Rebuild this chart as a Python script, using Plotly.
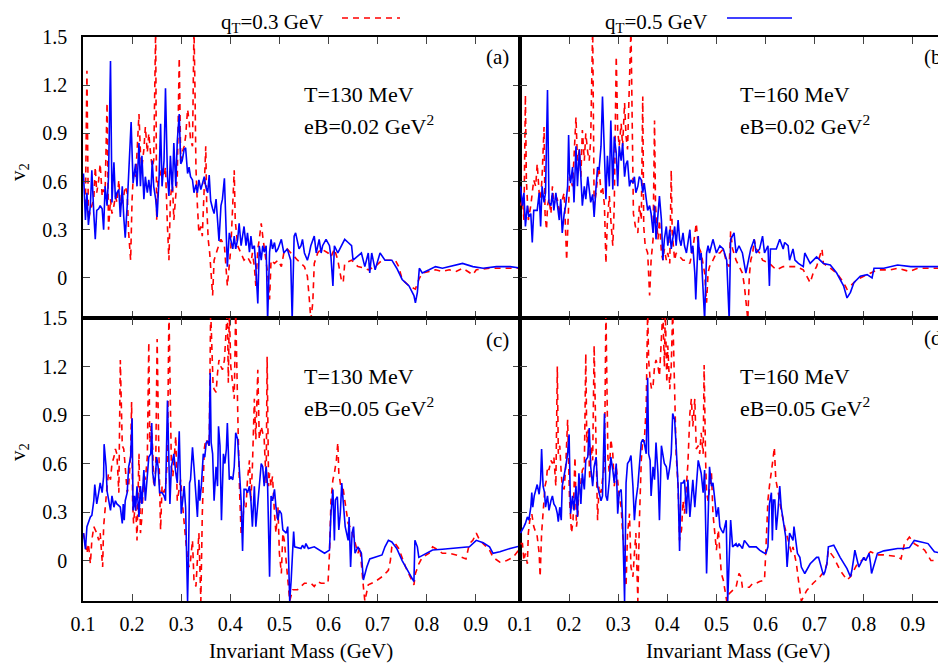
import plotly.graph_objects as go

# ---------------- data ----------------
# panel (a): T=130 MeV, eB=0.02 GeV^2
a_blue_x = [0.101,0.105,0.108,0.111,0.115,0.118,0.122,0.125,0.128,0.132,0.135,0.139,0.142,0.145,0.149,0.152,0.156,0.159,0.163,0.166,0.169,0.173,0.176,0.180,0.183,0.186,0.190,0.193,0.198,0.202,0.207,0.210,0.214,0.217,0.220,0.224,0.227,0.231,0.234,0.238,0.241,0.244,0.248,0.251,0.255,0.258,0.261,0.265,0.268,0.272,0.275,0.278,0.282,0.285,0.289,0.292,0.296,0.299,0.302,0.306,0.309,0.313,0.316,0.319,0.323,0.326,0.330,0.333,0.336,0.340,0.343,0.347,0.350,0.354,0.357,0.360,0.364,0.367,0.371,0.374,0.377,0.381,0.384,0.388,0.391,0.394,0.398,0.401,0.405,0.408,0.411,0.415,0.418,0.422,0.425,0.428,0.432,0.435,0.439,0.442,0.445,0.449,0.452,0.456,0.459,0.463,0.466,0.469,0.473,0.476,0.480,0.483,0.486,0.490,0.493,0.497,0.504,0.509,0.516,0.523,0.526,0.530,0.533,0.540,0.544,0.547,0.551,0.557,0.561,0.564,0.571,0.575,0.581,0.585,0.588,0.595,0.602,0.605,0.609,0.612,0.619,0.626,0.633,0.640,0.647,0.650,0.657,0.667,0.674,0.681,0.684,0.688,0.695,0.705,0.715,0.729,0.739,0.750,0.764,0.774,0.777,0.781,0.785,0.791,0.805,0.818,0.832,0.846,0.860,0.873,0.894,0.915,0.942,0.970,0.994]
a_blue_y = [0.65,0.36,0.53,0.33,0.45,0.67,0.40,0.24,0.42,0.43,0.45,0.43,0.30,0.57,0.45,0.63,1.35,0.47,0.72,0.49,0.53,0.55,0.38,0.57,0.38,0.25,0.45,0.63,0.97,0.59,0.71,0.57,0.84,0.57,0.76,0.49,0.63,0.53,0.61,0.51,0.73,0.57,0.49,0.38,0.63,0.96,0.57,0.73,1.18,0.63,0.51,0.76,0.54,0.84,0.57,0.85,1.02,0.71,0.73,0.80,0.81,0.65,0.69,0.63,0.61,0.53,0.58,0.53,0.61,0.55,0.59,0.63,0.57,0.53,0.64,0.48,0.43,0.40,0.49,0.36,0.23,0.45,0.49,0.62,0.26,0.07,0.28,0.24,0.18,0.26,0.18,0.24,0.34,0.20,0.26,0.32,0.20,0.28,0.16,0.26,0.18,0.20,0.07,-0.16,0.20,0.11,0.20,0.16,0.20,-0.26,0.16,0.24,0.18,0.22,0.16,0.18,0.24,0.155,0.18,0.11,-0.26,0.26,0.28,0.18,0.20,0.24,0.155,0.11,0.155,0.20,0.26,0.155,0.24,0.155,0.20,0.24,0.20,0.13,-0.05,0.20,0.155,0.20,0.24,0.22,0.20,0.11,0.13,0.155,0.07,0.155,0.03,0.155,0.05,0.155,0.11,0.11,0.06,-0.01,-0.05,-0.11,-0.155,-0.09,0.06,0.03,0.05,0.07,0.06,0.07,0.08,0.09,0.07,0.06,0.07,0.07,0.06]
a_red_x = [0.105,0.108,0.111,0.115,0.122,0.125,0.128,0.132,0.135,0.139,0.142,0.145,0.149,0.152,0.156,0.159,0.163,0.166,0.169,0.173,0.176,0.180,0.183,0.186,0.190,0.193,0.197,0.200,0.203,0.207,0.210,0.214,0.217,0.220,0.224,0.227,0.231,0.234,0.238,0.241,0.244,0.248,0.250,0.253,0.258,0.261,0.265,0.268,0.272,0.275,0.278,0.282,0.285,0.289,0.292,0.296,0.299,0.302,0.306,0.309,0.313,0.316,0.319,0.323,0.326,0.328,0.330,0.333,0.336,0.340,0.343,0.347,0.350,0.352,0.355,0.358,0.362,0.364,0.367,0.371,0.374,0.381,0.388,0.394,0.398,0.401,0.408,0.410,0.415,0.422,0.428,0.435,0.442,0.445,0.449,0.452,0.456,0.459,0.463,0.466,0.469,0.476,0.480,0.483,0.490,0.497,0.504,0.509,0.516,0.523,0.537,0.551,0.557,0.561,0.564,0.568,0.571,0.578,0.585,0.599,0.605,0.612,0.619,0.626,0.630,0.633,0.647,0.660,0.674,0.681,0.695,0.709,0.722,0.736,0.743,0.750,0.764,0.777,0.784,0.791,0.805,0.818,0.832,0.846,0.860,0.873,0.894,0.901,0.928,0.970,0.994]
a_red_y = [0.45,1.29,0.36,0.42,0.49,0.69,0.53,0.61,0.71,0.51,0.55,0.53,1.09,0.30,0.49,0.40,0.45,0.51,0.47,0.61,0.45,0.47,0.51,0.57,0.53,0.28,0.11,0.49,0.67,0.63,0.78,1.02,0.78,0.69,0.80,0.94,0.78,0.90,0.76,0.69,0.73,1.56,0.36,0.61,0.65,0.69,0.63,0.69,0.32,0.11,0.49,0.61,0.36,0.49,0.63,1.37,0.73,0.78,0.82,0.88,1.05,0.98,0.86,0.82,1.56,1.19,0.69,0.45,0.28,0.32,0.26,0.57,0.82,0.45,0.24,0.155,-0.01,-0.11,0.11,0.155,0.18,0.24,0.20,-0.05,0.09,0.18,0.67,0.36,0.20,0.155,0.11,0.13,0.09,0.155,0.07,-0.05,0.18,0.24,0.34,0.26,0.20,0.03,-0.135,0.11,0.09,0.11,0.07,0.155,0.18,0.155,0.11,0.07,0.01,-0.135,-0.26,-0.155,0.09,0.155,0.18,0.155,0.13,0.18,0.11,-0.01,-0.03,0.09,0.11,0.07,0.06,0.05,0.07,0.11,0.11,0.11,0.07,-0.01,-0.05,-0.07,-0.01,0.03,0.04,0.05,0.04,0.05,0.04,0.06,0.02,0.05,0.06,0.06,0.06]

# panel (b): T=160 MeV, eB=0.02 GeV^2
b_blue_x = [0.101,0.105,0.108,0.111,0.115,0.118,0.122,0.125,0.128,0.135,0.139,0.142,0.145,0.149,0.152,0.156,0.159,0.163,0.166,0.169,0.173,0.176,0.180,0.183,0.186,0.190,0.193,0.197,0.199,0.201,0.203,0.207,0.210,0.214,0.217,0.221,0.224,0.227,0.231,0.234,0.238,0.241,0.244,0.248,0.251,0.255,0.258,0.261,0.265,0.268,0.272,0.275,0.278,0.282,0.285,0.289,0.292,0.296,0.299,0.302,0.306,0.309,0.313,0.316,0.319,0.323,0.326,0.330,0.333,0.336,0.340,0.343,0.347,0.350,0.353,0.357,0.360,0.364,0.367,0.371,0.374,0.377,0.381,0.384,0.388,0.391,0.394,0.398,0.401,0.405,0.408,0.411,0.415,0.418,0.422,0.425,0.428,0.432,0.435,0.439,0.442,0.446,0.449,0.452,0.456,0.458,0.463,0.466,0.469,0.473,0.476,0.480,0.483,0.486,0.493,0.500,0.507,0.514,0.521,0.526,0.529,0.536,0.540,0.546,0.553,0.560,0.564,0.570,0.577,0.581,0.588,0.594,0.598,0.605,0.608,0.610,0.622,0.629,0.636,0.639,0.646,0.649,0.656,0.660,0.667,0.677,0.680,0.691,0.704,0.718,0.732,0.745,0.759,0.766,0.773,0.780,0.793,0.807,0.817,0.821,0.841,0.869,0.896,0.924,0.951,0.974]
b_blue_y = [0.57,0.45,0.53,0.32,0.45,0.38,0.40,0.22,0.42,0.42,0.53,0.32,0.57,0.47,0.53,1.17,0.47,0.45,0.53,0.42,0.53,0.45,0.36,0.49,0.28,0.40,0.45,0.57,0.89,0.65,0.59,0.69,0.47,0.82,0.57,0.80,0.57,0.45,0.57,0.49,0.63,0.53,0.47,0.52,0.38,0.57,0.69,0.67,0.82,1.13,0.73,0.49,0.76,0.57,0.98,0.55,0.88,0.78,0.57,0.82,0.73,0.84,0.63,0.71,0.73,0.57,0.61,0.59,0.63,0.53,0.57,0.63,0.61,0.53,0.59,0.51,0.42,0.45,0.40,0.28,0.45,0.24,0.40,0.51,0.36,0.11,0.24,0.32,0.20,0.30,0.18,0.24,0.32,0.20,0.36,0.24,0.20,0.28,0.20,0.155,0.22,0.30,0.155,0.20,0.03,-0.135,0.26,0.11,0.155,-0.05,-0.26,0.155,0.20,0.155,0.24,0.155,0.20,0.18,0.11,-0.26,0.24,0.28,0.155,0.20,0.155,0.03,0.09,0.18,0.24,0.155,0.18,0.26,0.155,0.20,-0.05,0.18,0.18,0.24,0.18,0.22,0.20,0.11,0.18,0.11,0.09,0.07,0.155,0.09,0.13,0.09,0.08,0.03,-0.05,-0.125,-0.09,-0.03,0.01,0.02,0.00,0.06,0.06,0.08,0.07,0.07,0.07,0.07]
b_red_x = [0.101,0.105,0.108,0.111,0.113,0.117,0.122,0.125,0.128,0.132,0.135,0.139,0.142,0.145,0.149,0.151,0.154,0.156,0.159,0.163,0.166,0.169,0.173,0.176,0.180,0.183,0.186,0.190,0.193,0.195,0.199,0.201,0.207,0.210,0.214,0.217,0.221,0.224,0.227,0.231,0.234,0.238,0.241,0.244,0.248,0.251,0.255,0.258,0.261,0.265,0.268,0.272,0.275,0.278,0.282,0.285,0.289,0.292,0.296,0.299,0.302,0.306,0.309,0.313,0.316,0.319,0.323,0.326,0.328,0.331,0.335,0.340,0.343,0.347,0.350,0.352,0.355,0.360,0.364,0.367,0.371,0.374,0.376,0.381,0.384,0.388,0.391,0.394,0.398,0.401,0.405,0.408,0.410,0.415,0.418,0.425,0.432,0.439,0.446,0.452,0.456,0.459,0.463,0.469,0.476,0.480,0.483,0.486,0.493,0.500,0.507,0.514,0.521,0.526,0.529,0.533,0.540,0.546,0.553,0.557,0.560,0.564,0.567,0.570,0.574,0.577,0.581,0.588,0.594,0.608,0.622,0.636,0.649,0.663,0.677,0.684,0.691,0.697,0.704,0.715,0.718,0.732,0.745,0.759,0.766,0.773,0.787,0.800,0.814,0.828,0.855,0.869,0.893,0.910,0.937,0.974]
b_red_y = [0.45,0.49,0.36,1.14,0.61,0.36,0.45,0.53,0.61,0.57,0.71,0.53,0.49,0.63,0.94,0.40,0.30,0.45,0.49,0.40,0.57,0.45,0.51,0.49,0.40,0.45,0.49,0.53,0.28,0.11,0.45,0.63,0.57,0.73,1.00,0.73,0.80,0.63,0.92,0.73,0.90,0.78,0.73,0.86,1.56,0.45,0.53,0.63,0.69,0.53,0.57,0.45,0.09,0.36,0.51,0.36,0.20,0.45,1.38,0.92,0.82,0.96,0.82,1.09,0.88,0.80,1.27,1.56,1.09,0.40,0.32,0.28,0.45,0.36,1.13,0.32,0.20,0.155,-0.11,0.11,0.24,0.98,0.45,0.24,0.36,0.155,0.11,0.18,0.11,0.155,0.09,0.67,0.28,0.11,0.155,0.13,0.11,0.11,0.09,0.18,0.26,0.34,0.20,0.155,0.03,-0.155,0.03,0.07,0.11,0.155,0.155,0.18,0.09,0.07,0.29,0.18,0.11,0.07,0.03,-0.05,-0.155,-0.26,0.01,0.11,0.155,0.24,0.18,0.155,0.11,0.09,0.05,0.07,0.07,0.07,0.05,0.01,-0.03,0.03,0.07,0.18,0.09,0.06,0.03,-0.03,-0.07,-0.05,-0.01,0.01,0.03,0.05,0.05,0.06,0.04,0.06,0.06,0.06]

# panel (c): T=130 MeV, eB=0.05 GeV^2
c_blue_x = [0.101,0.105,0.108,0.111,0.115,0.118,0.122,0.124,0.126,0.128,0.132,0.135,0.139,0.142,0.143,0.147,0.149,0.152,0.156,0.159,0.163,0.166,0.169,0.173,0.176,0.180,0.182,0.184,0.186,0.190,0.193,0.197,0.200,0.202,0.205,0.207,0.210,0.214,0.217,0.220,0.224,0.227,0.231,0.234,0.238,0.240,0.242,0.246,0.250,0.253,0.256,0.261,0.265,0.268,0.272,0.275,0.277,0.280,0.283,0.285,0.289,0.292,0.296,0.298,0.300,0.303,0.306,0.309,0.313,0.315,0.317,0.319,0.323,0.326,0.330,0.333,0.336,0.338,0.341,0.345,0.348,0.351,0.354,0.357,0.359,0.361,0.364,0.367,0.371,0.374,0.376,0.379,0.382,0.386,0.389,0.392,0.394,0.398,0.401,0.405,0.408,0.411,0.415,0.418,0.422,0.425,0.428,0.432,0.435,0.439,0.442,0.445,0.449,0.452,0.456,0.459,0.463,0.466,0.469,0.473,0.476,0.480,0.483,0.486,0.490,0.493,0.497,0.500,0.504,0.507,0.514,0.517,0.521,0.524,0.529,0.531,0.544,0.547,0.551,0.554,0.559,0.571,0.585,0.592,0.602,0.605,0.609,0.612,0.614,0.618,0.621,0.624,0.627,0.631,0.634,0.640,0.642,0.645,0.648,0.651,0.654,0.660,0.667,0.671,0.678,0.684,0.695,0.709,0.715,0.722,0.729,0.739,0.750,0.764,0.774,0.776,0.781,0.784,0.798,0.812,0.832,0.853,0.873,0.887,0.901,0.915,0.928,0.935,0.949,0.970,0.997]
c_blue_y = [0.17,0.07,0.21,0.24,0.27,0.28,0.37,0.47,0.42,0.35,0.42,0.48,0.42,0.52,0.72,0.58,0.43,0.37,0.31,0.40,0.33,0.37,0.35,0.34,0.33,0.23,0.35,0.25,0.37,0.42,0.58,0.64,0.88,0.31,0.40,0.31,0.46,0.27,0.46,0.35,0.56,0.37,0.54,0.64,0.66,0.85,0.54,0.46,0.64,0.58,0.42,0.42,0.40,0.37,0.99,0.69,0.35,0.58,0.64,0.66,0.54,0.48,0.80,0.46,0.29,0.37,0.46,0.33,-0.25,0.04,0.48,0.50,0.70,0.58,0.37,0.27,0.50,0.37,0.46,0.66,0.64,0.73,0.74,0.71,1.16,0.73,0.66,0.37,0.58,0.46,0.83,0.71,0.25,0.66,0.60,0.69,0.85,0.50,0.52,0.50,0.58,0.79,0.75,0.58,0.37,0.06,0.44,0.44,0.42,0.46,0.37,0.21,0.46,0.21,0.37,0.46,0.60,0.58,0.46,0.58,0.46,-0.10,0.40,0.37,0.44,0.33,0.25,0.31,0.29,0.19,0.17,0.21,-0.25,-0.12,0.18,0.085,0.075,0.095,0.075,0.105,0.075,0.085,0.055,0.045,0.065,0.29,0.44,0.125,0.375,0.395,0.19,0.29,0.48,0.33,0.21,0.125,0.27,-0.04,0.17,0.21,0.045,0.085,0.045,-0.12,-0.04,0.01,0.02,0.035,0.085,0.125,0.115,0.075,0.00,-0.08,-0.13,0.125,0.085,0.02,0.045,0.065,0.07,0.075,0.08,0.085,0.125,0.11,0.085,0.045,0.055,0.075,0.095]
c_red_x = [0.101,0.105,0.108,0.111,0.115,0.118,0.122,0.125,0.128,0.132,0.135,0.139,0.140,0.142,0.145,0.149,0.152,0.156,0.159,0.163,0.166,0.169,0.173,0.176,0.180,0.183,0.186,0.190,0.193,0.197,0.199,0.201,0.203,0.207,0.210,0.214,0.217,0.220,0.224,0.227,0.231,0.234,0.236,0.239,0.242,0.244,0.248,0.251,0.254,0.257,0.258,0.261,0.265,0.268,0.272,0.275,0.277,0.280,0.283,0.285,0.289,0.292,0.296,0.299,0.302,0.306,0.309,0.313,0.316,0.319,0.323,0.326,0.330,0.333,0.336,0.340,0.343,0.347,0.350,0.354,0.357,0.360,0.362,0.365,0.367,0.371,0.374,0.377,0.381,0.384,0.388,0.391,0.394,0.396,0.398,0.401,0.405,0.408,0.411,0.413,0.416,0.419,0.422,0.425,0.428,0.432,0.435,0.439,0.442,0.445,0.449,0.452,0.456,0.459,0.463,0.466,0.469,0.473,0.475,0.478,0.480,0.483,0.486,0.490,0.493,0.497,0.500,0.504,0.507,0.510,0.514,0.517,0.521,0.527,0.537,0.551,0.564,0.571,0.578,0.585,0.599,0.602,0.605,0.609,0.612,0.616,0.619,0.621,0.625,0.630,0.633,0.636,0.640,0.647,0.654,0.660,0.664,0.667,0.671,0.674,0.681,0.695,0.709,0.719,0.722,0.726,0.729,0.736,0.743,0.757,0.770,0.774,0.777,0.784,0.791,0.805,0.812,0.818,0.832,0.846,0.860,0.873,0.880,0.887,0.894,0.901,0.908,0.915,0.928,0.935,0.949,0.963,0.976,0.990]
c_red_y = [0.17,0.085,0.045,0.105,-0.02,0.125,0.21,0.19,0.17,0.125,0.17,0.00,-0.04,0.21,0.33,0.46,0.54,0.50,0.60,0.64,0.69,0.66,0.42,1.24,0.71,0.69,0.58,0.42,0.46,0.66,0.98,0.37,0.23,0.37,0.125,0.66,0.17,0.27,0.54,0.50,0.64,1.35,0.73,0.83,0.69,0.46,0.56,1.37,0.75,0.37,0.19,0.46,0.42,0.46,0.62,1.55,1.00,0.58,0.52,0.60,0.77,0.37,0.46,0.50,0.37,0.25,0.125,0.00,-0.04,0.00,0.125,-0.12,-0.16,0.00,0.17,-0.25,0.29,0.69,0.75,0.73,0.71,1.55,1.31,1.08,1.06,1.04,1.16,1.24,1.20,1.18,1.24,1.43,1.55,1.10,1.55,1.20,1.08,1.00,1.55,1.20,0.79,0.42,0.17,0.21,0.37,0.33,0.50,0.62,0.37,0.58,1.00,0.75,1.18,0.75,0.83,0.79,0.75,0.48,1.26,0.46,0.54,0.46,0.52,0.29,0.17,0.33,0.045,-0.08,0.17,0.125,0.00,-0.14,-0.25,-0.18,-0.18,-0.14,-0.14,-0.16,-0.13,-0.14,-0.14,0.045,0.37,0.50,0.54,0.62,0.73,0.54,0.46,0.44,0.37,0.29,0.23,0.19,0.105,0.045,0.085,-0.04,-0.16,-0.25,-0.15,-0.13,-0.10,-0.07,-0.06,0.00,0.085,0.105,0.075,-0.04,-0.12,-0.15,-0.08,-0.02,0.02,0.045,0.085,0.075,0.045,0.045,0.035,0.02,0.01,0.105,0.125,0.17,0.125,0.105,0.065,0.02,-0.01,0.00,0.02,0.075]

# panel (d): T=160 MeV, eB=0.05 GeV^2
d_blue_x = [0.101,0.105,0.108,0.111,0.115,0.118,0.122,0.124,0.126,0.129,0.132,0.135,0.139,0.142,0.144,0.147,0.150,0.152,0.156,0.159,0.163,0.166,0.169,0.173,0.176,0.178,0.181,0.184,0.186,0.190,0.193,0.197,0.200,0.203,0.207,0.210,0.214,0.217,0.220,0.224,0.227,0.231,0.234,0.238,0.241,0.244,0.248,0.251,0.255,0.258,0.261,0.265,0.268,0.272,0.275,0.278,0.282,0.285,0.289,0.292,0.296,0.299,0.302,0.306,0.309,0.313,0.316,0.319,0.323,0.326,0.330,0.333,0.336,0.340,0.343,0.347,0.350,0.353,0.357,0.360,0.362,0.365,0.367,0.371,0.374,0.377,0.381,0.384,0.388,0.391,0.394,0.398,0.401,0.405,0.408,0.411,0.415,0.418,0.422,0.425,0.428,0.432,0.435,0.439,0.442,0.446,0.449,0.452,0.456,0.459,0.463,0.466,0.469,0.473,0.476,0.480,0.483,0.486,0.490,0.493,0.497,0.500,0.504,0.507,0.510,0.514,0.517,0.520,0.523,0.526,0.529,0.533,0.540,0.543,0.546,0.553,0.557,0.567,0.581,0.588,0.598,0.601,0.605,0.608,0.612,0.614,0.616,0.619,0.622,0.625,0.629,0.632,0.639,0.641,0.644,0.649,0.656,0.658,0.665,0.670,0.673,0.680,0.691,0.704,0.708,0.718,0.721,0.725,0.728,0.739,0.752,0.766,0.773,0.776,0.780,0.782,0.790,0.793,0.800,0.804,0.811,0.814,0.816,0.828,0.841,0.869,0.883,0.893,0.903,0.917,0.931,0.944,0.958,0.974]
d_blue_y = [0.17,0.19,0.21,0.23,0.27,0.25,0.33,0.42,0.33,0.40,0.44,0.47,0.41,0.50,0.69,0.46,0.42,0.33,0.40,0.31,0.37,0.40,0.35,0.33,0.29,0.24,0.33,0.25,0.46,0.52,0.58,0.66,0.78,0.29,0.40,0.31,0.46,0.27,0.54,0.35,0.54,0.44,0.62,0.64,0.82,0.58,0.46,0.58,0.64,0.46,0.42,0.37,0.40,0.91,0.40,0.37,0.50,0.64,0.56,0.48,0.60,0.29,0.42,0.44,0.25,-0.25,0.48,0.60,0.62,0.65,0.46,0.25,0.37,0.46,0.58,0.73,0.75,0.73,0.66,1.13,0.66,0.62,0.40,0.58,0.50,0.73,0.54,0.25,0.71,0.66,0.60,0.58,0.50,0.58,0.66,0.91,0.87,0.71,0.46,0.06,0.48,0.48,0.50,0.29,0.50,0.27,0.37,0.50,0.33,0.46,0.62,0.58,0.54,0.42,0.56,-0.08,0.29,0.58,0.46,0.48,0.37,0.27,0.33,0.21,0.19,0.17,0.21,0.25,-0.25,-0.04,0.25,0.085,0.105,0.085,0.105,0.075,0.125,0.085,0.085,0.065,0.045,0.045,0.085,0.35,0.42,0.125,0.375,0.375,0.19,0.29,0.46,0.33,0.19,0.15,-0.04,0.17,0.125,0.21,0.045,0.02,-0.04,-0.08,-0.02,0.02,0.02,-0.09,-0.07,-0.02,0.085,0.095,0.02,-0.05,-0.10,-0.06,0.02,0.065,-0.04,-0.02,0.02,0.00,0.045,-0.02,-0.08,0.045,0.06,0.075,0.075,0.08,0.125,0.115,0.105,0.055,0.045,0.075,0.085]
d_red_x = [0.101,0.105,0.108,0.111,0.115,0.117,0.120,0.124,0.128,0.132,0.135,0.139,0.141,0.144,0.147,0.151,0.154,0.156,0.159,0.163,0.166,0.169,0.173,0.176,0.178,0.181,0.184,0.186,0.190,0.193,0.197,0.199,0.201,0.205,0.208,0.212,0.215,0.218,0.220,0.224,0.227,0.231,0.234,0.236,0.239,0.242,0.245,0.248,0.251,0.253,0.256,0.258,0.261,0.265,0.268,0.272,0.275,0.277,0.279,0.282,0.285,0.289,0.292,0.296,0.299,0.302,0.306,0.309,0.313,0.316,0.319,0.323,0.326,0.330,0.333,0.336,0.340,0.343,0.347,0.350,0.353,0.357,0.360,0.362,0.365,0.368,0.371,0.374,0.377,0.381,0.384,0.388,0.391,0.394,0.396,0.399,0.401,0.405,0.408,0.411,0.414,0.416,0.418,0.422,0.425,0.429,0.432,0.435,0.439,0.442,0.446,0.449,0.452,0.456,0.459,0.463,0.466,0.469,0.473,0.475,0.478,0.480,0.483,0.486,0.490,0.493,0.497,0.500,0.504,0.507,0.510,0.514,0.517,0.521,0.526,0.540,0.546,0.550,0.553,0.567,0.574,0.581,0.588,0.598,0.601,0.605,0.608,0.612,0.615,0.618,0.621,0.626,0.632,0.639,0.646,0.653,0.656,0.663,0.667,0.673,0.684,0.697,0.711,0.721,0.725,0.728,0.739,0.752,0.766,0.773,0.787,0.800,0.814,0.828,0.841,0.869,0.876,0.883,0.893,0.903,0.924,0.937,0.951,0.965,0.974]
d_red_y = [0.105,0.105,0.00,0.045,-0.02,0.17,0.25,0.29,0.21,0.17,0.15,0.045,-0.10,0.17,0.29,0.46,0.50,0.58,0.56,0.62,0.60,0.64,0.46,1.20,0.66,0.71,0.54,0.46,0.44,0.58,0.87,0.52,0.37,0.17,0.25,0.64,0.21,0.29,0.46,0.48,0.56,0.58,1.28,0.73,0.81,0.50,0.71,0.62,1.33,1.00,0.46,0.25,0.46,0.42,0.50,0.58,1.55,1.20,0.64,0.54,0.75,0.66,0.46,0.58,0.48,0.40,0.33,0.17,0.045,-0.16,0.17,0.29,-0.04,-0.10,0.045,0.17,-0.25,0.23,0.62,0.75,0.73,0.95,1.55,1.24,1.12,1.06,1.08,1.20,1.24,1.20,1.14,1.33,1.55,1.20,1.55,1.10,1.33,1.06,1.20,1.55,1.20,0.91,0.66,0.46,0.125,0.19,0.37,0.29,0.48,0.60,0.91,1.00,0.83,1.00,0.69,0.71,0.66,0.79,0.66,1.21,0.62,0.42,0.37,0.46,0.54,0.29,0.17,0.065,0.19,0.045,-0.08,-0.12,-0.18,-0.25,-0.205,-0.165,-0.08,-0.10,-0.165,-0.165,-0.14,-0.14,-0.13,-0.12,0.085,0.375,0.46,0.54,0.62,0.70,0.50,0.42,0.31,0.21,0.125,0.045,0.085,-0.02,-0.12,-0.25,-0.185,-0.14,-0.10,-0.06,-0.02,0.065,0.02,-0.06,-0.12,-0.10,-0.02,0.01,0.055,0.035,0.035,0.025,0.01,0.105,0.145,0.105,0.065,0.00,0.00,0.025,0.045]

x_ticks = [0.1, 0.2, 0.3, 0.4, 0.5, 0.6, 0.7, 0.8, 0.9]
x_tick_text = ["0.1", "0.2", "0.3", "0.4", "0.5", "0.6", "0.7", "0.8", "0.9"]
y_ticks = [0, 0.3, 0.6, 0.9, 1.2, 1.5]
y_tick_text = ["0", "0.3", "0.6", "0.9", "1.2", "1.5"]
legend_labels = ["q<sub>T</sub>=0.3 GeV", "q<sub>T</sub>=0.5 GeV"]
panel_labels = ["(a)", "(b)", "(c)", "(d)"]
temp_labels = ["T=130 MeV", "T=160 MeV", "T=130 MeV", "T=160 MeV"]
field_labels = ["eB=0.02 GeV<sup>2</sup>", "eB=0.02 GeV<sup>2</sup>",
                "eB=0.05 GeV<sup>2</sup>", "eB=0.05 GeV<sup>2</sup>"]

# ---------------- figure ----------------
# The page puts the figure 8 px from the window's top-left corner, so the
# figure is 8 px smaller and every target position is taken 8 px earlier.
WIN_W, WIN_H, OFF = 946, 665, 8
W, H = WIN_W - OFF, WIN_H - OFF
FONT = "Liberation Serif"
RED = "#ff0000"
BLUE = "#0000ff"

def fx(p):  # window pixel x -> paper fraction
    return (p - OFF) / W

def fy(p):  # window pixel y (from top) -> paper fraction
    return 1 - (p - OFF) / H

panels = [
    (a_red_x, a_red_y, a_blue_x, a_blue_y),
    (b_red_x, b_red_y, b_blue_x, b_blue_y),
    (c_red_x, c_red_y, c_blue_x, c_blue_y),
    (d_red_x, d_red_y, d_blue_x, d_blue_y),
]

fig = go.Figure()
for i, (rx, ry, bx, by) in enumerate(panels):
    sfx = "" if i == 0 else str(i + 1)
    fig.add_trace(go.Scatter(x=rx, y=ry, mode="lines", xaxis="x" + sfx, yaxis="y" + sfx,
                             line=dict(color=RED, width=1.6, dash="6px,5px"), showlegend=False))
    fig.add_trace(go.Scatter(x=bx, y=by, mode="lines", xaxis="x" + sfx, yaxis="y" + sfx,
                             line=dict(color=BLUE, width=1.6), showlegend=False))

px_left, px_mid, px_right = 83, 520, 946
py_top, py_mid, py_bot = 37, 318, 601
dom_xl = [fx(px_left), fx(px_mid)]
dom_xr = [fx(px_mid), 1.0]
dom_yt = [fy(py_mid), fy(py_top)]
dom_yb = [fy(py_bot), fy(py_mid)]
px_per_x = 491.0
xr_left = [0.1, 0.1 + (px_mid - px_left) / px_per_x]
xr_right = [0.1, 0.1 + (px_right - px_mid) / px_per_x]
yr = [-0.25, 1.5]

def xaxis(dom, rng, anchor, labels):
    return dict(domain=dom, range=rng, anchor=anchor, showline=True, linecolor="black",
                linewidth=1.5, mirror="ticks", ticks="inside", ticklen=7, tickcolor="#444",
                tickwidth=1, tickvals=x_ticks, ticktext=x_tick_text, showticklabels=labels,
                showgrid=False, zeroline=False, ticklabelstandoff=4, automargin=False,
                tickfont=dict(family=FONT, size=20, color="black"))

def yaxis(dom, anchor, labels):
    return dict(domain=dom, range=yr, anchor=anchor, showline=True, linecolor="black",
                linewidth=1.5, mirror="ticks", ticks="inside", ticklen=7, tickcolor="#444",
                tickwidth=1, tickvals=y_ticks, ticktext=y_tick_text, showticklabels=labels,
                showgrid=False, zeroline=False, ticklabelstandoff=10, automargin=False,
                tickfont=dict(family=FONT, size=20, color="black"))

fig.update_layout(
    width=W, height=H, margin=dict(l=0, r=0, t=0, b=0, pad=0, autoexpand=False),
    paper_bgcolor="white", plot_bgcolor="white", showlegend=False,
    font=dict(family=FONT, size=20, color="black"),
    xaxis=xaxis(dom_xl, xr_left, "y", False),
    yaxis=yaxis(dom_yt, "x", True),
    xaxis2=xaxis(dom_xr, xr_right, "y2", False),
    yaxis2=yaxis(dom_yt, "x2", False),
    xaxis3=xaxis(dom_xl, xr_left, "y3", True),
    yaxis3=yaxis(dom_yb, "x3", True),
    xaxis4=xaxis(dom_xr, xr_right, "y4", True),
    yaxis4=yaxis(dom_yb, "x4", False),
)

ann = []
# legend (text boxes kept inside the figure)
ann.append(dict(x=fx(324), y=fy(9), xref="paper", yref="paper", text=legend_labels[0],
                xanchor="right", yanchor="top", showarrow=False, borderpad=0, font=dict(size=21)))
ann.append(dict(x=fx(708), y=fy(9), xref="paper", yref="paper", text=legend_labels[1],
                xanchor="right", yanchor="top", showarrow=False, borderpad=0, font=dict(size=21)))
shapes = [
    dict(type="line", xref="paper", yref="paper", x0=fx(342), x1=fx(400), y0=fy(18), y1=fy(18),
         line=dict(color=RED, width=1.6, dash="6px,5px")),
    dict(type="line", xref="paper", yref="paper", x0=fx(727), x1=fx(792), y0=fy(18), y1=fy(18),
         line=dict(color=BLUE, width=1.6)),
]

# panel texts
lab_pos = [(511, 57, "right"), (922, 57, "left"), (511, 340, "right"), (922, 338, "left")]
txt_left = [302, 738, 302, 738]
txt_top = [94, 94, 376, 376]
for i in range(4):
    lx, ly, la = lab_pos[i]
    ann.append(dict(x=fx(lx), y=fy(ly), xref="paper", yref="paper", text=panel_labels[i],
                    xanchor=la, yanchor="middle", showarrow=False, font=dict(size=21)))
    ann.append(dict(x=fx(txt_left[i]), y=fy(txt_top[i]), xref="paper", yref="paper",
                    text=temp_labels[i], xanchor="left", yanchor="middle", showarrow=False,
                    font=dict(size=22)))
    ann.append(dict(x=fx(txt_left[i]), y=fy(txt_top[i] + 31), xref="paper", yref="paper",
                    text=field_labels[i], xanchor="left", yanchor="middle", showarrow=False,
                    font=dict(size=22)))

# axis titles
for yc in (172, 452):
    ann.append(dict(x=fx(19), y=fy(yc), xref="paper", yref="paper", text="v<sub>2</sub>",
                    textangle=-90, xanchor="center", yanchor="middle", showarrow=False,
                    font=dict(size=21)))
for xc in (301, 738):
    ann.append(dict(x=fx(xc), y=fy(651), xref="paper", yref="paper", text="Invariant Mass (GeV)",
                    xanchor="center", yanchor="middle", showarrow=False, font=dict(size=21)))

fig.update_layout(annotations=ann, shapes=shapes)
fig.write_html("out.html")
